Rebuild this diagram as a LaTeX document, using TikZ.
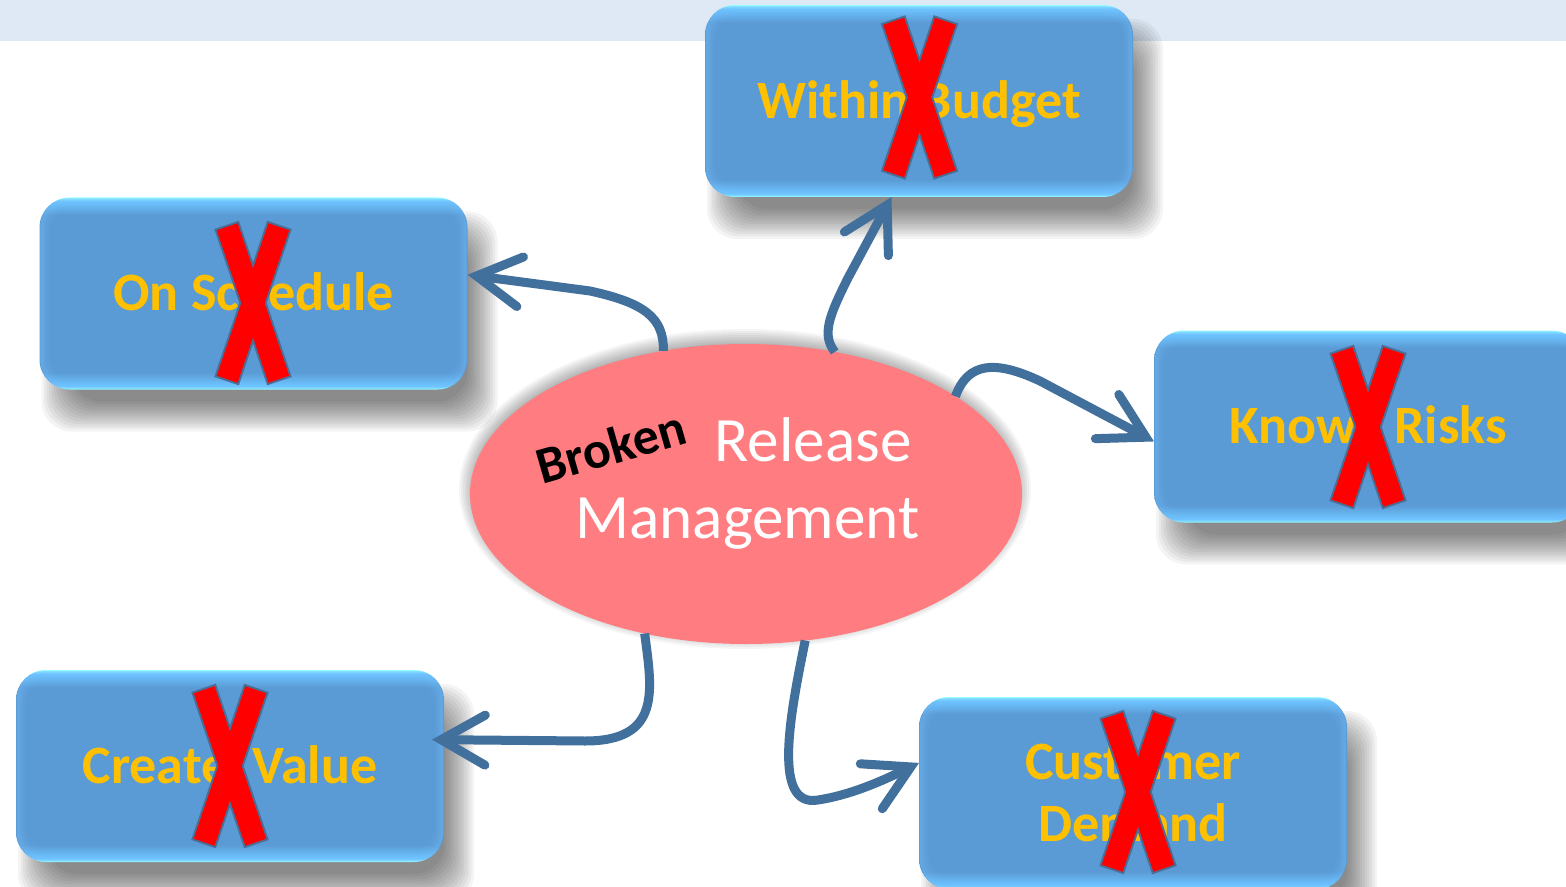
\documentclass[tikz,border=0pt]{standalone}
\usepackage{fontspec}
\setmainfont{Carlito}
\usetikzlibrary{arrows.meta,shapes.geometric}
\definecolor{boxblue}{HTML}{5B9BD5}
\definecolor{glowc}{HTML}{99FFFF}
\definecolor{glowb}{HTML}{6CC4FF}
\definecolor{sideglowc}{HTML}{74C0FF}
\definecolor{gold}{HTML}{FFC000}
\definecolor{pinkfill}{HTML}{FF7C80}
\definecolor{arrowc}{HTML}{41709C}
\definecolor{xlinec}{HTML}{4A6E96}
\definecolor{bandc}{HTML}{DEE9F5}
\pgfdeclareverticalshading{boxglow}{100bp}{color(0bp)=(glowc); color(25bp)=(glowc); color(26bp)=(glowb); color(29.5bp)=(boxblue); color(70.5bp)=(boxblue); color(74bp)=(glowb); color(75bp)=(glowc); color(100bp)=(glowc)}
\tikzset{
  glowbox/.style={rectangle, rounded corners=15pt, minimum width=214pt, minimum height=96pt,
    inner sep=0pt, outer sep=0pt, shade, shading=boxglow, font=\bfseries\fontsize{27}{31}\selectfont,
    text=gold, align=center, text height=17.1pt, text depth=-2.5pt},
  conn/.style={draw=arrowc, line width=4.5pt, line cap=butt,
    -{Straight Barb[length=22pt,width=25pt,line cap=round,line join=miter]}},
}
\newcommand\boxshadow[2]{%
  \foreach \e in {14,11.5,...,-16}{%
    \fill[black,opacity=0.042,rounded corners=15pt] ({#1+16-214-(\e)},{#2+28-96-(\e)}) rectangle ({#1+16+214+(\e)},{#2+28+96+(\e)});}}
\newcommand\boxsideglow[1]{%
  \foreach \i/\o in {2/0.35,4/0.25,6/0.15,8/0.08}{%
    \draw[sideglowc, opacity=\o, line width=1.2pt, rounded corners=14pt] ([shift={(\i,\i)}]#1.north west) rectangle ([shift={(-\i,-\i)}]#1.south east);}}
\newcommand\redx[2]{%
  \begin{scope}[shift={(#1,#2)}]
    \foreach \a in {18.7,-18.7}{\draw[xlinec, line width=2pt, line join=miter, rotate=\a] (-11,-80.5) rectangle (11,80.5);}
    \foreach \a in {18.7,-18.7}{\fill[red, rotate=\a] (-11,-80.5) rectangle (11,80.5);}
  \end{scope}}
\begin{document}
\begin{tikzpicture}[x=0.5pt,y=-0.5pt]
\useasboundingbox (0,0) rectangle (1566,887);
\clip (0,0) rectangle (1566,887);
\fill[white] (0,0) rectangle (1566,887);
\fill[bandc] (0,0) rectangle (1566,41);
% shadows
\boxshadow{919}{101}
\boxshadow{253.5}{293.5}
\boxshadow{1368}{426.5}
\boxshadow{230}{766}
\boxshadow{1133}{793}
\foreach \e in {10,8,...,-6}{\fill[black,opacity=0.04] (745,489) ellipse [x radius={276+(\e)}, y radius={150+(\e)}];}
% boxes
\node[glowbox] (wb) at (919,101) {Within Budget};
\node[glowbox] (os) at (253.5,293.5) {On Schedule};
\node[glowbox] (kr) at (1368,426.5) {Know\hspace*{19pt}Risks};
\node[glowbox] (cv) at (230,766) {Create\hspace*{12pt}Value};
\node[glowbox, text height=48.1pt, text depth=-1pt] (cd) at (1133,793) {Customer\\Demand};
\boxsideglow{wb}\boxsideglow{os}\boxsideglow{kr}\boxsideglow{cv}\boxsideglow{cd}
% central ellipse
\node[ellipse, fill=pinkfill, minimum width=276pt, minimum height=150pt, inner sep=0pt, outer sep=0pt] (rm) at (746,494) {};
\node[font=\fontsize{31.6}{38}\selectfont, text=white, anchor=base west, inner sep=0pt] (rel) at (714,461) {Release};
\node[font=\fontsize{31.6}{38}\selectfont, text=white, anchor=base west, inner sep=0pt] (mgmt) at (575,538) {Management};
\node[font=\bfseries\fontsize{26}{31}\selectfont, text=black, rotate=16, anchor=base west, inner sep=0pt] (brk) at (542,485) {Broken};
% crosses
\redx{919.5}{97.5}
\redx{253}{303}
\redx{1368}{427}
\redx{230}{766}
\redx{1138}{792}
% connectors
\draw[conn] (rm.120) .. controls (664,318) and (645,303) .. (590,291) -- (os.5.7);
\draw[conn] (rm.58) .. controls (822,335) and (828,318) .. (848,278) -- (wb.-106.8);
\draw[conn] (rm.25) .. controls (968,362) and (995,360) .. (1040,381) -- (kr.184.5);
\draw[conn, shorten >=-6pt] (rm.-126.8) .. controls (652,690) and (662,741) .. (585,741) -- (cv.7.5);
\draw[conn] (rm.-68) .. controls (790,715) and (772,808) .. (818,800) .. controls (850,795) and (880,782) .. (cd.172);
\end{tikzpicture}
\end{document}
